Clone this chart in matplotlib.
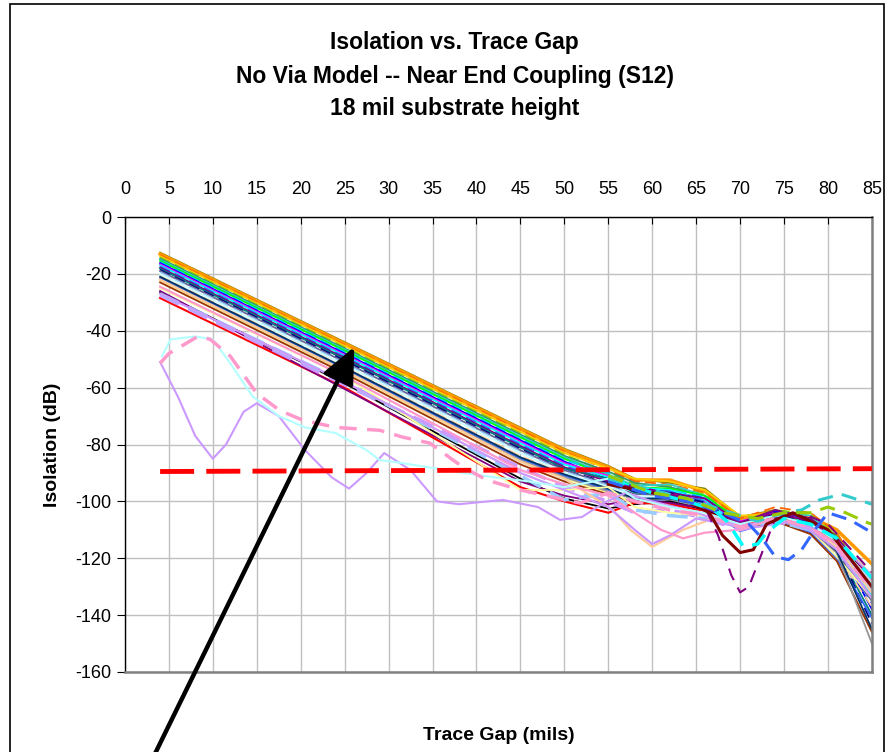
import numpy as np
import matplotlib.pyplot as plt
from matplotlib.patches import Rectangle

plt.rcParams['font.family'] = ['Liberation Sans', 'DejaVu Sans']
plt.rcParams['axes.unicode_minus'] = False

# x positions shared by the straight "bundle" series (trace gap, mils)
GAP = [4, 25, 45, 50, 55, 58, 62, 66, 70, 74, 78, 81, 85]

# upper bundle: isolation (dB) at each GAP point
UPPER = [
    [-12.5, -44.0, -74.0, -81.5, -87.5, -92.0, -93.5, -95.5, -105.5, -103.0, -106.0, -112.0, -128.0],
    [-13.0, -44.5, -74.5, -82.0, -88.0, -92.5, -92.5, -96.5, -106.0, -103.5, -105.5, -110.0, -122.0],
    [-13.4, -45.0, -75.0, -82.5, -89.0, -93.0, -94.0, -97.0, -106.0, -102.0, -104.0, -111.0, -131.0],
    [-13.8, -45.3, -75.5, -83.0, -88.5, -92.0, -93.0, -96.0, -105.0, -104.5, -108.0, -113.5, -126.0],
    [-14.2, -45.8, -76.0, -83.5, -90.0, -94.0, -94.5, -97.5, -107.0, -103.0, -104.5, -112.0, -135.0],
    [-14.6, -46.2, -76.5, -84.0, -89.5, -93.5, -95.0, -98.0, -107.5, -104.0, -106.5, -112.5, -130.0],
    [-15.0, -46.6, -77.0, -84.5, -90.5, -94.5, -94.0, -98.0, -108.0, -103.5, -105.0, -113.0, -127.0],
    [-15.4, -47.0, -77.5, -85.0, -91.0, -95.0, -95.5, -98.0, -107.0, -104.5, -107.0, -114.0, -133.5],
    [-15.8, -47.5, -78.0, -85.5, -90.0, -96.0, -96.0, -98.5, -108.5, -105.0, -108.0, -115.0, -129.0],
    [-16.2, -48.0, -78.5, -86.0, -92.0, -95.5, -96.5, -99.0, -108.0, -103.5, -106.0, -114.5, -138.0],
    [-16.6, -48.4, -79.0, -86.5, -91.0, -96.5, -97.0, -100.0, -107.0, -104.0, -107.0, -113.0, -131.0],
    [-17.0, -48.8, -79.5, -87.0, -91.5, -95.0, -96.0, -99.5, -109.0, -105.5, -107.5, -116.0, -133.0],
    [-17.4, -49.2, -80.0, -87.5, -92.5, -96.0, -96.5, -100.0, -108.5, -104.0, -109.0, -115.5, -136.0],
    [-17.8, -49.6, -80.5, -88.0, -93.0, -95.5, -97.0, -99.0, -107.5, -103.0, -106.0, -113.0, -128.0],
    [-18.2, -50.0, -81.0, -88.5, -92.0, -97.0, -97.5, -101.0, -109.5, -105.0, -108.0, -117.0, -140.0],
    [-18.6, -50.5, -81.5, -89.0, -93.5, -96.5, -97.0, -100.5, -108.0, -104.5, -107.5, -116.5, -143.0],
    [-19.0, -51.0, -82.0, -89.0, -94.0, -97.5, -98.0, -101.5, -109.0, -105.5, -109.0, -118.0, -135.0],
    [-19.5, -51.5, -82.5, -89.5, -94.5, -98.0, -99.0, -101.0, -110.0, -106.0, -110.0, -118.5, -132.0],
    [-20.0, -52.0, -83.0, -90.0, -95.0, -98.0, -98.5, -102.0, -109.5, -105.0, -108.5, -117.0, -130.0],
    [-20.8, -52.8, -84.0, -90.5, -95.5, -99.0, -99.5, -102.5, -110.0, -106.5, -110.5, -119.0, -137.0],
    [-21.5, -53.5, -85.0, -91.0, -96.0, -99.5, -100.0, -102.0, -110.5, -107.0, -111.0, -120.0, -141.0],
    [-22.5, -54.5, -86.0, -92.0, -97.0, -100.0, -101.0, -103.0, -109.0, -106.0, -110.0, -119.5, -134.0],
    [-23.0, -55.0, -87.0, -93.0, -97.5, -100.5, -100.5, -102.5, -110.0, -107.0, -111.5, -121.0, -146.0],
    [-22.0, -54.0, -85.5, -91.5, -96.5, -99.0, -99.5, -102.0, -110.0, -106.5, -110.0, -118.0, -150.0],
    [-21.0, -53.0, -84.5, -90.5, -95.5, -99.0, -99.0, -101.5, -109.5, -106.0, -109.5, -117.5, -145.0],
]
UPPER_COLORS = ['#808000', '#FF9900', '#FF6600', '#FFCC00', '#99CC00', '#339966', '#33CCCC',
                '#00FF00', '#00CCFF', '#0000FF', '#FF00FF', '#00FFFF', '#3366FF', '#800080',
                '#008080', '#000080', '#666699', '#99CCFF', '#CCFFFF', '#FFCC99', '#3366FF',
                '#FFFF99', '#993300', '#969696', '#003366']
UPPER_DASHED = [0, 0, 1, 0, 1, 0, 0, 0, 1, 0, 0, 0, 1, 0, 0, 1, 0, 1, 0, 1, 0, 0, 0, 0, 0]

# lower bundle (starts near -25..-29 dB)
LOWER = [
    [-26.5, -58.5, -92.0, -99.0, -102.5, -101.0, -100.0, -103.0, -108.0, -105.0, -108.0, -114.0, -128.0],
    [-28.5, -60.0, -95.0, -100.0, -104.0, -100.5, -101.0, -103.5, -108.5, -105.5, -108.5, -115.0, -130.0],
    [-26.0, -60.5, -93.0, -98.0, -101.0, -99.5, -100.5, -102.5, -107.5, -104.0, -107.0, -113.0, -127.0],
    [-27.5, -59.0, -88.0, -95.0, -100.0, -104.0, -103.0, -106.0, -110.0, -107.0, -110.0, -116.0, -131.0],
    [-27.0, -58.0, -91.0, -99.5, -97.0, -103.0, -105.0, -106.0, -109.0, -107.0, -110.0, -116.0, -132.0],
    [-25.0, -56.0, -96.0, -96.0, -95.0, -102.0, -104.0, -105.0, -109.0, -106.0, -109.0, -115.0, -128.0],
]
LOWER_COLORS = ['#000000', '#FF0000', '#800080', '#CC99FF', '#99CCFF', '#FFFF99']
LOWER_DASHED = [0, 0, 0, 1, 1, 0]
LOWER_WIDTHS = [1.3, 1.5, 1.3, 2.5, 2.5, 1.3]

# individual curves with their own sample points
LAV_X = [4, 6, 8, 10, 11.5, 13.5, 15, 17.5, 20.5, 23.5, 25.5, 27.5, 29.5, 32.5, 35.5, 38, 43, 47,
         49.5, 52, 54.5, 57, 60, 64, 68, 72, 76, 80, 85]
LAV_Y = [-51, -63, -77, -85, -80, -68.5, -65.5, -70, -82, -91.5, -95.5, -90, -83, -89, -100, -101,
         -99.5, -102, -106.5, -105.5, -100.5, -97, -100, -103, -107, -109, -107, -111, -126]

CYAN_X = [4.2, 5.2, 8, 10, 12, 14.5, 17.5, 20.5, 24, 27.5, 29, 31.5, 34.5, 38.5, 42, 46, 50, 55,
          58, 62, 66, 70, 74, 78, 81, 85]
CYAN_Y = [-49, -43, -42, -43, -51.5, -63, -70, -74, -76, -82, -85.5, -86.5, -88, -90, -91.5, -93,
          -95, -92, -99, -102, -104, -108, -105, -108, -114, -129]

PINK_X = [4, 5, 8.3, 9.7, 12, 15, 17.6, 20.2, 24, 29, 31.6, 34.7, 37.3, 38.5, 41.2, 45, 48.7,
          51.8, 55, 58, 62, 66, 70, 74, 78, 81, 85]
PINK_Y = [-51.4, -48, -42, -43, -49, -62, -68, -71.4, -74, -75, -77.4, -79.5, -85.4, -88, -92.5,
          -96, -98.5, -100.6, -97, -100, -103, -105, -109, -106, -109, -116, -131]

PEACH_X = [4, 25, 45, 50, 55.5, 57.5, 60, 63.5, 66.5, 70, 74, 78, 81, 85]
PEACH_Y = [-22, -54, -86, -92, -103, -110, -116, -110, -106.5, -109, -106, -109, -116, -132]

LAV2_X = [4, 25, 45, 50, 55, 58, 60, 62, 65, 70, 74, 78, 81, 85]
LAV2_Y = [-27, -58, -90, -96, -102, -110, -115, -112, -106, -109, -106, -110, -117, -134]

PINK2_X = [4, 25, 45, 50, 55, 58, 61, 63.5, 66, 70, 74, 78, 81, 85]
PINK2_Y = [-24.5, -56, -89, -94, -98, -104, -110, -113, -111, -110, -106, -109, -115, -128]

PURPLE_X = [55, 60, 64, 66, 67.5, 69, 70, 71, 72.5, 74, 77, 80, 85]
PURPLE_Y = [-93, -96, -99, -102, -112, -126, -132, -130, -118, -106, -104, -108, -125]

MAROON_X = [55, 60, 64, 66.5, 68, 70, 71.5, 73, 76, 80, 85]
MAROON_Y = [-94, -97, -100, -104, -112, -118, -117, -108, -104, -110, -130]

CYANDIP_X = [55, 60, 64, 67, 68.5, 70.4, 72, 73, 75, 78, 81, 85]
CYANDIP_Y = [-92, -97, -100, -103, -107, -116, -115, -111, -106, -108, -113, -127]

BLUE_X = [55, 60, 64, 68, 71, 72.5, 74, 75.5, 77, 78.5, 80, 82.5, 85]
BLUE_Y = [-93, -98, -100, -104, -108, -113, -119.5, -120.5, -117, -110, -104, -106.5, -111]

AQUA_X = [55, 60, 64, 68, 72, 75, 77, 79, 81.5, 84, 85]
AQUA_Y = [-92, -96, -99, -103, -107, -104, -103, -99.5, -97.5, -100, -101]

LIME_X = [55, 60, 64, 68, 72, 75, 78, 80, 82, 84.5, 85]
LIME_Y = [-91, -97, -99, -104, -106, -104, -104, -102, -104, -107.5, -108]

# -90 dB requirement line
LIMIT_X = [4, 85]
LIMIT_Y = [-89.5, -88.5]

# arrow tip (data) pointing at the bundle
ARROW_TIP = (26.1, -45.7)

fig = plt.figure(figsize=(8.9, 7.52), dpi=100)
ax = fig.add_axes([0.1404, 0.1064, 0.8393, 0.605])

dash = (0, (6, 3))

for ys, c, d in zip(UPPER, UPPER_COLORS, UPPER_DASHED):
    lw = 2.5 if c == '#FF9900' else 1.3
    ax.plot(GAP, ys, color=c, lw=lw, ls=dash if d else '-')

for ys, c, d, w in zip(LOWER, LOWER_COLORS, LOWER_DASHED, LOWER_WIDTHS):
    ax.plot(GAP, ys, color=c, lw=w, ls=dash if d else '-')

ax.plot(PEACH_X, PEACH_Y, color='#FFCC99', lw=1.6)
ax.plot(LAV2_X, LAV2_Y, color='#CC99FF', lw=1.6)
ax.plot(PINK2_X, PINK2_Y, color='#FF99CC', lw=1.6)
ax.plot(LAV_X, LAV_Y, color='#CC99FF', lw=1.5)
ax.plot(CYAN_X, CYAN_Y, color='#B3FFFF', lw=1.5)
ax.plot(PINK_X, PINK_Y, color='#FF99CC', lw=2.5, ls=(0, (5, 3)))
ax.plot(PURPLE_X, PURPLE_Y, color='#800080', lw=1.5, ls=(0, (6, 4)))
ax.plot(MAROON_X, MAROON_Y, color='#800000', lw=2.2)
ax.plot(CYANDIP_X, CYANDIP_Y, color='#00FFFF', lw=2.5, ls=(0, (5, 3)))
ax.plot(BLUE_X, BLUE_Y, color='#3366FF', lw=2.2, ls=(0, (5, 3)))
ax.plot(AQUA_X, AQUA_Y, color='#33CCCC', lw=2.2, ls=(0, (5, 3)))
ax.plot(LIME_X, LIME_Y, color='#99CC00', lw=2.2, ls=(0, (5, 3)))

ax.plot(LIMIT_X, LIMIT_Y, color='#FF0000', lw=3.5, ls=(0, (7, 2.5)), zorder=5)

ax.set_xlim(0, 85)
ax.set_ylim(-160, 0)
ax.set_xticks(np.arange(0, 86, 5))
ax.set_yticks(np.arange(-160, 1, 20))
ax.grid(True, color='#C0C0C0', lw=1)
ax.set_axisbelow(True)

ax.xaxis.set_ticks_position('top')
ax.tick_params(axis='x', direction='in', length=5, labelsize=13, pad=14, colors='black')
ax.tick_params(axis='y', direction='out', length=6, labelsize=13, pad=4)

for s in ['left', 'top']:
    ax.spines[s].set_color('black')
    ax.spines[s].set_linewidth(1)
for s in ['right', 'bottom']:
    ax.spines[s].set_color('#808080')
    ax.spines[s].set_linewidth(1.8)

ax.set_ylabel('Isolation (dB)', fontsize=14, fontweight='bold', labelpad=10)
ax.text(0.5, -0.14, 'Trace Gap (mils)', transform=ax.transAxes, ha='center', va='center',
        fontsize=14, fontweight='bold')

fig.text(0.511, 1 - 43 / 752, 'Isolation vs. Trace Gap', ha='center', va='center',
         fontsize=16.5, fontweight='bold')
fig.text(0.511, 1 - 76 / 752, 'No Via Model -- Near End Coupling (S12)', ha='center', va='center',
         fontsize=16.5, fontweight='bold')
fig.text(0.511, 1 - 109 / 752, '18 mil substrate height', ha='center', va='center',
         fontsize=16.5, fontweight='bold')

# chart-area border
fig.patches.append(Rectangle((10 / 890, -0.05), 874 / 890, 1.045, transform=fig.transFigure,
                             fill=False, ec='black', lw=1.2))

ax.annotate('', xy=ARROW_TIP, xycoords='data', xytext=(154 / 890, -0.005),
            textcoords='figure fraction', annotation_clip=False,
            arrowprops=dict(arrowstyle='-|>,head_length=1.1,head_width=0.5', color='black',
                            lw=3.2, mutation_scale=20, shrinkA=0, shrinkB=0), zorder=10)

fig.savefig('out.png', dpi=100)
